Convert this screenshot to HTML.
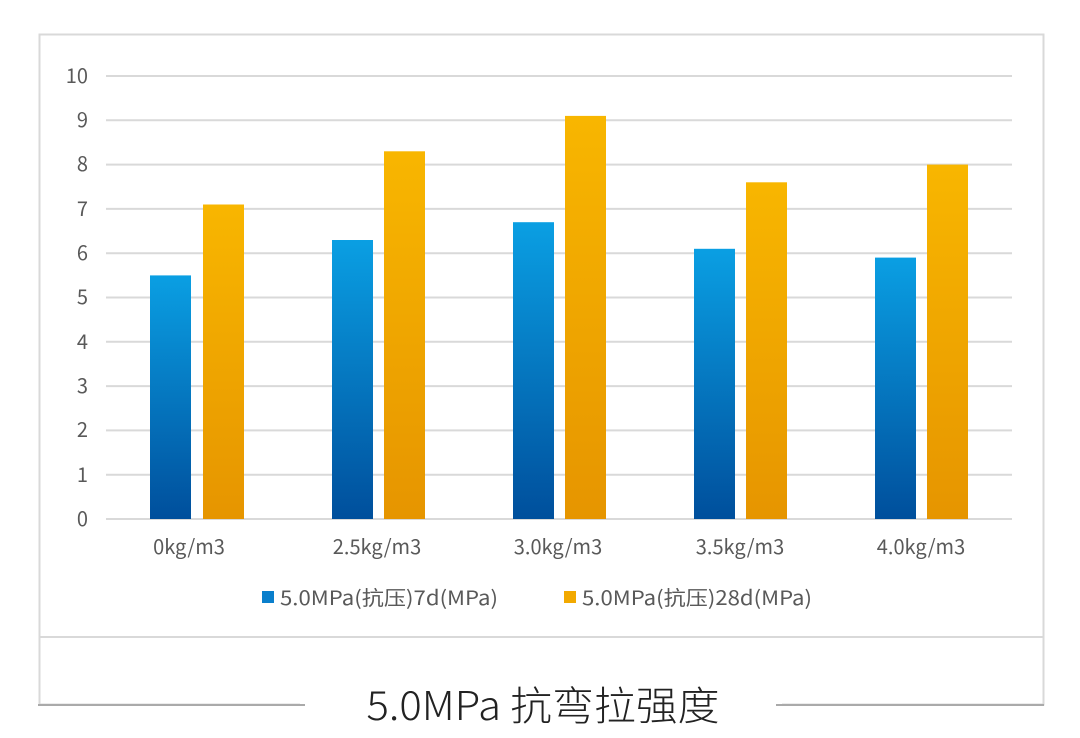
<!DOCTYPE html>
<html><head><meta charset="utf-8"><style>
html,body{margin:0;padding:0;background:#fff;}
svg{display:block;font-family:"Noto Sans CJK SC","Liberation Sans",sans-serif;}
</style></head><body>
<svg width="1080" height="738" viewBox="0 0 1080 738">
<defs>
<linearGradient id="b" x1="0" y1="0" x2="0" y2="1"><stop offset="0" stop-color="#0a9fe3"/><stop offset="1" stop-color="#004f9c"/></linearGradient>
<linearGradient id="o" x1="0" y1="0" x2="0" y2="1"><stop offset="0" stop-color="#f8b600"/><stop offset="1" stop-color="#e69500"/></linearGradient>
</defs>
<rect x="39.5" y="34.5" width="1004" height="670" fill="#fff" stroke="#d9d9d9" stroke-width="2"/>
<line x1="39" y1="637" x2="1043" y2="637" stroke="#d9d9d9" stroke-width="2"/>
<rect x="300" y="690" width="482" height="30" fill="#fff"/>
<line x1="38" y1="705" x2="305" y2="705" stroke="#aaa" stroke-width="2"/>
<line x1="776" y1="705" x2="1044" y2="705" stroke="#aaa" stroke-width="2"/>
<g stroke="#d9d9d9" stroke-width="2">
<line x1="106" y1="76" x2="1012" y2="76"/><line x1="106" y1="120.3" x2="1012" y2="120.3"/>
<line x1="106" y1="164.6" x2="1012" y2="164.6"/><line x1="106" y1="208.9" x2="1012" y2="208.9"/>
<line x1="106" y1="253.2" x2="1012" y2="253.2"/><line x1="106" y1="297.5" x2="1012" y2="297.5"/>
<line x1="106" y1="341.8" x2="1012" y2="341.8"/><line x1="106" y1="386.1" x2="1012" y2="386.1"/>
<line x1="106" y1="430.4" x2="1012" y2="430.4"/><line x1="106" y1="474.7" x2="1012" y2="474.7"/>
<line x1="106" y1="519" x2="1012" y2="519"/>
</g>
<g fill="#595959" font-size="20" text-anchor="end">
<text x="88" y="83">10</text><text x="88" y="127">9</text><text x="88" y="171">8</text>
<text x="88" y="216">7</text><text x="88" y="260">6</text><text x="88" y="304">5</text>
<text x="88" y="349">4</text><text x="88" y="393">3</text><text x="88" y="437">2</text>
<text x="88" y="482">1</text><text x="88" y="526">0</text>
</g>
<g fill="url(#b)">
<rect x="150" y="275.4" width="41" height="243.6"/>
<rect x="332" y="240" width="41" height="279"/>
<rect x="513" y="222.2" width="41" height="296.8"/>
<rect x="694" y="248.8" width="41" height="270.2"/>
<rect x="875" y="257.6" width="41" height="261.4"/>
</g>
<g fill="url(#o)">
<rect x="203" y="204.5" width="41" height="314.5"/>
<rect x="384" y="151.3" width="41" height="367.7"/>
<rect x="565" y="115.9" width="41" height="403.1"/>
<rect x="746" y="182.3" width="41" height="336.7"/>
<rect x="927" y="164.6" width="41" height="354.4"/>
</g>
<g fill="#595959" font-size="20" text-anchor="middle">
<text x="189" y="554">0kg/m3</text><text x="377" y="554">2.5kg/m3</text>
<text x="558" y="554">3.0kg/m3</text><text x="740" y="554">3.5kg/m3</text>
<text x="921" y="554">4.0kg/m3</text>
</g>
<rect x="262" y="591" width="12" height="12" fill="#0a7fcc"/>
<text x="280" y="605" fill="#595959" font-size="20" textLength="218" lengthAdjust="spacingAndGlyphs">5.0MPa(抗压)7d(MPa)</text>
<rect x="564" y="591" width="12" height="12" fill="#f2a900"/>
<text x="582" y="605" fill="#595959" font-size="20" textLength="230" lengthAdjust="spacingAndGlyphs">5.0MPa(抗压)28d(MPa)</text>
<text x="543" y="720" fill="#222" font-size="40" font-weight="300" text-anchor="middle" textLength="353" lengthAdjust="spacingAndGlyphs">5.0MPa 抗弯拉强度</text>
</svg>
</body></html>
